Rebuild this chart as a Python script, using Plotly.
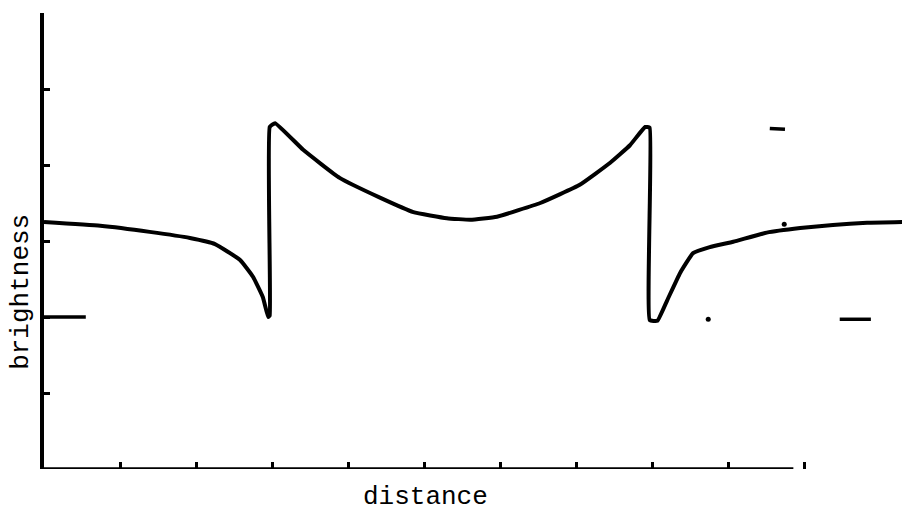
import plotly.graph_objects as go

# brightness profile across the two edges (x in tick units, y in tick units)
distance = [0.00, 0.74, 1.39, 1.92, 2.25, 2.58, 2.75, 2.88, 2.95, 2.97,
            2.97, 3.04, 3.41, 3.89, 4.42, 4.86, 5.30, 5.61, 5.96, 6.53,
            7.05, 7.45, 7.71, 7.91, 7.97, 7.97, 8.07, 8.20, 8.37, 8.54,
            8.76, 9.07, 9.51, 9.95, 10.38, 10.83, 11.29]
brightness = [3.25, 3.20, 3.12, 3.04, 2.96, 2.75, 2.53, 2.26, 2.00, 2.02,
              4.50, 4.55, 4.20, 3.83, 3.57, 3.38, 3.30, 3.28, 3.32, 3.50,
              3.74, 4.03, 4.26, 4.50, 4.49, 1.96, 1.95, 2.22, 2.58, 2.84,
              2.92, 2.99, 3.11, 3.17, 3.21, 3.24, 3.25]

# short reference dashes and dots drawn beside the curve
dash_x = [[0.0, 0.55], [10.47, 10.88], [9.55, 9.75]]
dash_y = [[2.0, 2.0], [1.97, 1.97], [4.48, 4.47]]
dot_x = [8.74, 9.74]
dot_y = [1.97, 3.22]

x_ticks = [1, 2, 3, 4, 5, 6, 7, 8, 9, 10]
y_ticks = [1, 2, 3, 4, 5, 6]

fig = go.Figure()
fig.add_trace(go.Scatter(x=distance, y=brightness, mode="lines",
                         line=dict(color="black", width=4, shape="spline",
                                   smoothing=0.35),
                         hoverinfo="skip"))
for xs, ys in zip(dash_x, dash_y):
    fig.add_trace(go.Scatter(x=xs, y=ys, mode="lines",
                             line=dict(color="black", width=3.5)))
fig.add_trace(go.Scatter(x=dot_x, y=dot_y, mode="markers",
                         marker=dict(color="black", size=5)))

# horizontal axis line stops short of the last tick
fig.add_shape(type="line", x0=0, x1=9.86, y0=0, y1=0, xref="x", yref="y",
              line=dict(color="black", width=3.5))

fig.update_layout(
    width=902, height=513,
    margin=dict(l=44, r=0, t=13, b=44),
    paper_bgcolor="white", plot_bgcolor="white",
    showlegend=False,
    xaxis=dict(range=[0, 858 / 76], showgrid=False, zeroline=False,
               showline=False, tickvals=x_ticks, ticks="inside",
               ticklen=7, tickwidth=2.5, tickcolor="black",
               showticklabels=False),
    yaxis=dict(range=[0, 6], showgrid=False, zeroline=False,
               showline=True, linecolor="black", linewidth=3.5,
               tickvals=y_ticks, ticks="inside", ticklen=6, tickwidth=2.5,
               tickcolor="black", showticklabels=False),
    annotations=[
        dict(text="distance", xref="paper", yref="paper",
             x=(425 - 44) / 858, y=-0.062, xanchor="center", yanchor="middle",
             showarrow=False,
             font=dict(family="Liberation Mono", size=26, color="black")),
        dict(text="brightness", xref="paper", yref="paper",
             x=-0.027, y=(469 - 292) / 456, xanchor="center", yanchor="middle",
             textangle=-90, showarrow=False,
             font=dict(family="Liberation Mono", size=26, color="black")),
    ],
)

fig.write_html("out.html")
